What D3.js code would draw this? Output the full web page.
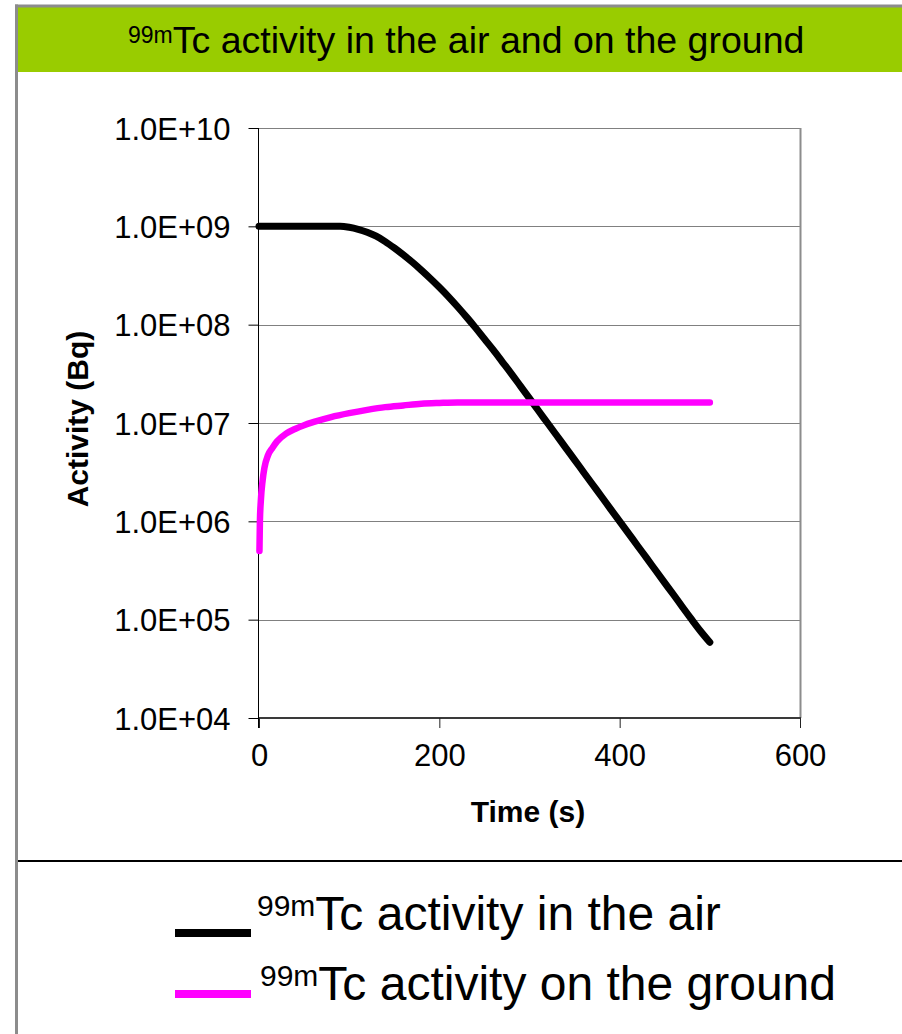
<!DOCTYPE html>
<html>
<head>
<meta charset="utf-8">
<script src="https://cdn.jsdelivr.net/npm/d3@7"></script>
<style>
  html, body { margin: 0; padding: 0; background: #ffffff; }
  svg { display: block; font-family: "Liberation Sans", Arial, sans-serif; }
</style>
</head>
<body>
<svg id="chart" width="902" height="1034"></svg>
<script>
// Time in seconds and activity in Bq for the airborne 99mTc
const timeAir = [0, 20, 40, 60, 80, 90, 100, 110, 120, 130, 140, 150, 160, 170, 180, 190, 200,
  210, 220, 230, 240, 250, 260, 270, 280, 290, 300, 310, 320, 330, 340, 350, 360, 370, 380,
  390, 400, 410, 420, 430, 440, 450, 460, 470, 480, 490, 500];
const activityAir = [1.0e9, 1.0e9, 1.0e9, 1.0e9, 1.0e9, 1.0e9, 9.77e8, 9.33e8, 8.71e8, 7.94e8,
  7.0e8, 6.03e8, 5.13e8, 4.32e8, 3.59e8, 2.95e8, 2.40e8, 1.93e8, 1.53e8, 1.20e8, 9.33e7, 7.16e7,
  5.50e7, 4.17e7, 3.16e7, 2.37e7, 1.78e7, 1.33e7, 1.0e7, 7.50e6, 5.62e6, 4.22e6, 3.16e6, 2.37e6,
  1.78e6, 1.33e6, 1.0e6, 7.50e5, 5.62e5, 4.22e5, 3.16e5, 2.37e5, 1.78e5, 1.33e5, 1.0e5, 7.59e4,
  5.89e4];

// Time in seconds and activity in Bq for the 99mTc deposited on the ground
const timeGround = [0.5, 1, 2, 4, 6, 10, 15, 20, 30, 40, 50, 60, 80, 100, 120, 140, 160, 180,
  200, 220, 250, 300, 350, 400, 450, 500];
const activityGround = [5.0e5, 1.0e6, 1.6e6, 2.6e6, 3.5e6, 4.7e6, 5.6e6, 6.5e6, 7.8e6, 8.7e6,
  9.5e6, 1.02e7, 1.15e7, 1.26e7, 1.36e7, 1.45e7, 1.51e7, 1.57e7, 1.6e7, 1.62e7, 1.62e7, 1.62e7,
  1.62e7, 1.62e7, 1.62e7, 1.62e7];

const seriesNames = ["Tc activity in the air", "Tc activity on the ground"];
const isotopePrefix = "99m";
const seriesColors = ["#000000", "#ff00ff"];

const xTicks = [0, 200, 400, 600];
const xTickLabels = ["0", "200", "400", "600"];
const yTicks = [1e4, 1e5, 1e6, 1e7, 1e8, 1e9, 1e10];
const yTickLabels = ["1.0E+04", "1.0E+05", "1.0E+06", "1.0E+07", "1.0E+08", "1.0E+09", "1.0E+10"];

const titleText = "Tc activity in the air and on the ground";
const xTitle = "Time (s)";
const yTitle = "Activity (Bq)";

const FONT = "'Liberation Sans', Arial, sans-serif";
const svg = d3.select("#chart");

// Frame: light grey page border and the green title band
svg.append("rect").attr("x", 0).attr("y", 0).attr("width", 902).attr("height", 1034).attr("fill", "#ffffff");
svg.append("rect").attr("x", 18).attr("y", 7).attr("width", 884).attr("height", 65).attr("fill", "#99cc00");
svg.append("line").attr("x1", 15).attr("x2", 902).attr("y1", 6).attr("y2", 6)
  .attr("stroke", "#8c8c8c").attr("stroke-width", 3);
svg.append("line").attr("x1", 16.5).attr("x2", 16.5).attr("y1", 4.5).attr("y2", 1034)
  .attr("stroke", "#8c8c8c").attr("stroke-width", 3);

const title = svg.append("text").attr("x", 128).attr("y", 53).attr("fill", "#000").attr("font-family", FONT);
title.append("tspan").attr("font-size", 23).attr("dy", -10).text(isotopePrefix);
title.append("tspan").attr("font-size", 37.5).attr("dy", 10).text(titleText);

// Scales
const x = d3.scaleLinear().domain([0, 600]).range([259, 800]);
const y = d3.scaleLog().domain([1e4, 1e10]).range([718, 128]);

// Horizontal gridlines
svg.append("g").selectAll("line").data(yTicks.slice(1)).join("line")
  .attr("x1", x(0)).attr("x2", x(600))
  .attr("y1", d => Math.round(y(d)) + 0.5).attr("y2", d => Math.round(y(d)) + 0.5)
  .attr("stroke", "#808080").attr("stroke-width", 1.2);

// Right edge of the plot area
svg.append("line").attr("x1", x(600) + 0.5).attr("x2", x(600) + 0.5)
  .attr("y1", y(1e10)).attr("y2", y(1e4))
  .attr("stroke", "#8c8c8c").attr("stroke-width", 2);

// Y axis
const yAxis = d3.axisLeft(y).tickValues(yTicks).tickSize(10).tickPadding(18)
  .tickFormat((d, i) => yTickLabels[i]);
const gy = svg.append("g").attr("transform", `translate(${x(0) - 0.5},0)`).call(yAxis);
gy.select(".domain").attr("stroke", "#000").attr("d", `M0,${y(1e10)}V728`);
gy.selectAll(".tick line").attr("stroke", "#000");
gy.selectAll(".tick text").attr("font-size", 31).attr("fill", "#000")
  .attr("font-family", FONT).attr("dy", "0.36em");

// X axis
const xAxis = d3.axisBottom(x).tickValues(xTicks).tickSize(10).tickPadding(16)
  .tickFormat((d, i) => xTickLabels[i]);
const gx = svg.append("g").attr("transform", `translate(0,${y(1e4)})`).call(xAxis);
gx.select(".domain").attr("stroke", "#3a3a3a").attr("stroke-width", 2)
  .attr("d", `M${x(0)},0H${x(600) + 1}`);
gx.selectAll(".tick line").attr("stroke", "#222");
gx.selectAll(".tick text").attr("font-size", 31).attr("fill", "#000").attr("font-family", FONT);

// Axis titles
svg.append("text").attr("x", 528).attr("y", 822).attr("text-anchor", "middle").attr("font-family", FONT)
  .attr("font-size", 30).attr("font-weight", "bold").text(xTitle);
svg.append("text").attr("transform", "translate(88,419) rotate(-90)").attr("text-anchor", "middle")
  .attr("font-family", FONT).attr("font-size", 30).attr("font-weight", "bold").text(yTitle);

// Series lines
const series = [
  { name: seriesNames[0], color: seriesColors[0], width: 7, pts: timeAir.map((t, i) => [t, activityAir[i]]) },
  { name: seriesNames[1], color: seriesColors[1], width: 6.5, pts: timeGround.map((t, i) => [t, activityGround[i]]) }
];
const line = d3.line().x(d => x(d[0])).y(d => y(d[1])).curve(d3.curveMonotoneX);
svg.append("g").selectAll("path").data(series).join("path")
  .attr("d", d => line(d.pts))
  .attr("fill", "none").attr("stroke", d => d.color).attr("stroke-width", d => d.width)
  .attr("stroke-linecap", "round").attr("stroke-linejoin", "round");

// Legend panel
svg.append("line").attr("x1", 18).attr("x2", 902).attr("y1", 861).attr("y2", 861)
  .attr("stroke", "#000").attr("stroke-width", 2);
const legend = svg.append("g").selectAll("g").data(series).join("g");
legend.append("rect").attr("x", 175).attr("y", (d, i) => 929 + i * 61)
  .attr("width", 76).attr("height", 8).attr("fill", d => d.color);
const lt = legend.append("text").attr("x", (d, i) => 257 + i * 3).attr("y", (d, i) => 930 + i * 70)
  .attr("fill", "#000").attr("font-family", FONT);
lt.append("tspan").attr("font-size", 30).attr("dy", -14).text(isotopePrefix);
lt.append("tspan").attr("font-size", 48).attr("dy", 14).text(d => d.name);
</script>
</body>
</html>
